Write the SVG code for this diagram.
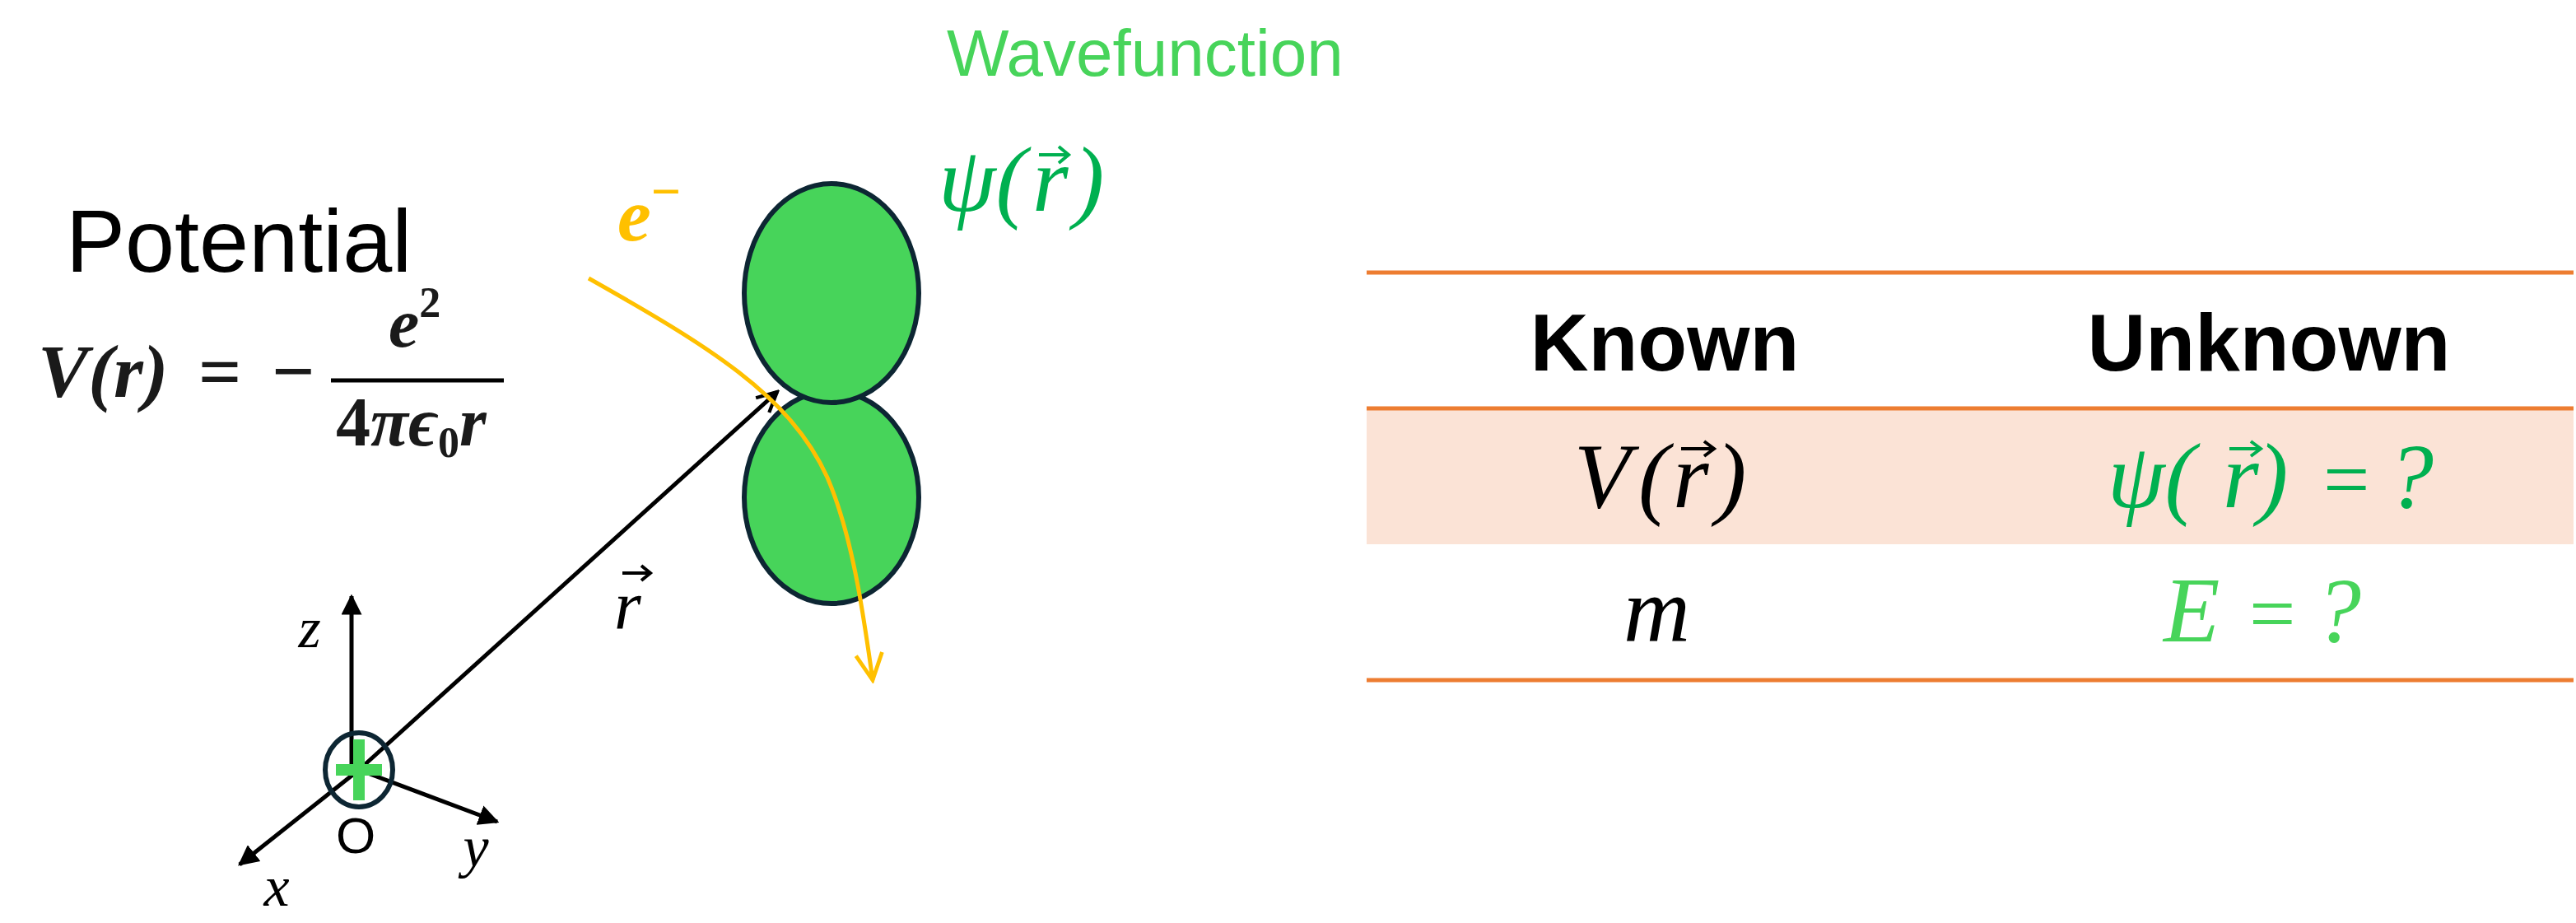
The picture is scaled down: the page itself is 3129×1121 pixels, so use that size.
<svg xmlns="http://www.w3.org/2000/svg" width="3129" height="1121" viewBox="0 0 3129 1121">
<style>
.sans{font-family:"Liberation Sans",Arial,sans-serif}
.math{font-family:"Liberation Serif","DejaVu Serif",serif;font-style:italic}
.ax{stroke:#000;stroke-width:5;fill:none}
.tl{stroke:#ed7d31;stroke-width:5}
.vec{stroke-width:4;fill:none}
</style>
<defs>
<marker id="ab" viewBox="0 0 10 10" refX="9" refY="5" markerWidth="5" markerHeight="5" orient="auto"><path d="M0,0 L10,5 L0,10 z" fill="#000"/></marker>
<marker id="ao" viewBox="0 0 10 10" refX="9" refY="5" markerWidth="6" markerHeight="6" orient="auto"><path d="M1,1 L9,5 L1,9" fill="none" stroke="#000" stroke-width="1.4"/></marker>
<marker id="ay" viewBox="0 0 10 10" refX="9" refY="5" markerWidth="8" markerHeight="8" orient="auto"><path d="M1,1 L9,5 L1,9" fill="none" stroke="#ffc000" stroke-width="1.2"/></marker>
</defs>
<rect width="3129" height="1121" fill="#fff"/>
<g id="potential">
<text class="sans" x="80" y="330" font-size="108">Potential</text>
<text class="math" y="482" font-size="92" font-weight="bold" fill="#1a1a1a"><tspan x="46">V(r)</tspan><tspan x="241" font-style="normal">=</tspan><tspan x="330" font-style="normal">−</tspan></text>
<text class="math" x="472" y="421" font-size="84" font-weight="bold" fill="#1a1a1a">e<tspan font-size="52" dy="-36" font-style="normal">2</tspan></text>
<line x1="402" y1="462" x2="612" y2="462" stroke="#000" stroke-width="5"/>
<text class="math" x="408" y="541" font-size="84" font-weight="bold" fill="#1a1a1a"><tspan font-style="normal">4</tspan>πϵ<tspan font-size="52" dy="14" font-style="normal">0</tspan><tspan dy="-14">r</tspan></text>
</g>
<g id="orbital">
<ellipse cx="1010" cy="604" rx="106" ry="129" fill="#47d45a" stroke="#0d2633" stroke-width="6"/>
<ellipse cx="1010" cy="356" rx="106" ry="133" fill="#47d45a" stroke="#0d2633" stroke-width="6"/>
</g>
<g id="wave-label">
<text class="sans" x="1150" y="92" font-size="80" fill="#47d45a">Wavefunction</text>
<text class="math" y="256" font-size="112" fill="#00b050"><tspan x="1140">ψ(</tspan><tspan x="1254">r</tspan><tspan x="1304">)</tspan></text>
<path class="vec" stroke="#00b050" d="M1262,188 H1298 M1286,178 L1298,188 L1286,198"/>
</g>
<g id="electron">
<text class="math" x="750" y="292" font-size="92" font-weight="bold" fill="#ffc000">e<tspan font-style="normal" dy="-38" font-size="64">−</tspan></text>
</g>
<g id="connectors">
<line class="ax" x1="427" y1="935" x2="427" y2="724" marker-end="url(#ab)"/>
<line class="ax" x1="436" y1="935" x2="291" y2="1050" marker-end="url(#ab)"/>
<line class="ax" x1="436" y1="935" x2="604" y2="998" marker-end="url(#ab)"/>
<line class="ax" x1="436" y1="935" x2="944" y2="476" marker-end="url(#ao)"/>
<path d="M715,338 C860,420 960,480 1005,580 C1035,650 1048,740 1060,826" fill="none" stroke="#ffc000" stroke-width="5" marker-end="url(#ay)"/>
</g>
<g id="origin">
<ellipse cx="436" cy="935" rx="41" ry="45" fill="none" stroke="#0d2633" stroke-width="6"/>
<rect x="429" y="898" width="14" height="74" fill="#47d45a"/>
<rect x="408" y="928" width="56" height="14" fill="#47d45a"/>
<text class="sans" x="432" y="1036" font-size="62" text-anchor="middle">O</text>
<text class="math" x="376" y="786" font-size="70" text-anchor="middle">z</text>
<text class="math" x="336" y="1100" font-size="70" text-anchor="middle">x</text>
<text class="math" x="578" y="1052" font-size="70" text-anchor="middle">y</text>
<text class="math" x="746" y="764" font-size="84">r</text>
<path class="vec" stroke="#000" d="M756,696 H790 M779,687 L790,696 L779,705"/>
</g>
<g id="table">
<rect x="1660" y="496" width="1466" height="165" fill="#fbe3d6"/>
<line class="tl" x1="1660" y1="331" x2="3126" y2="331"/>
<line class="tl" x1="1660" y1="496" x2="3126" y2="496"/>
<line class="tl" x1="1660" y1="826" x2="3126" y2="826"/>
<text class="sans" x="2022" y="450" font-size="98" font-weight="bold" text-anchor="middle">Known</text>
<text class="sans" x="2756" y="450" font-size="98" font-weight="bold" text-anchor="middle">Unknown</text>
<text class="math" y="616" font-size="112"><tspan x="1912">V</tspan><tspan x="1990">(</tspan><tspan x="2032">r</tspan><tspan x="2084">)</tspan></text>
<path class="vec" stroke="#000" d="M2042,545 H2082 M2070,536 L2082,545 L2070,554"/>
<text class="math" y="616" font-size="112" fill="#00b050"><tspan x="2560">ψ(</tspan><tspan x="2700">r</tspan><tspan x="2742">)</tspan><tspan x="2822" font-style="normal" font-size="100">=</tspan><tspan x="2900">?</tspan></text>
<path class="vec" stroke="#00b050" d="M2708,545 H2746 M2734,536 L2746,545 L2734,554"/>
<text class="math" x="1972" y="779" font-size="112">m</text>
<text class="math" y="779" font-size="112" fill="#47d45a"><tspan x="2628">E</tspan><tspan x="2732" font-style="normal" font-size="100">=</tspan><tspan x="2812">?</tspan></text>
</g>
</svg>
